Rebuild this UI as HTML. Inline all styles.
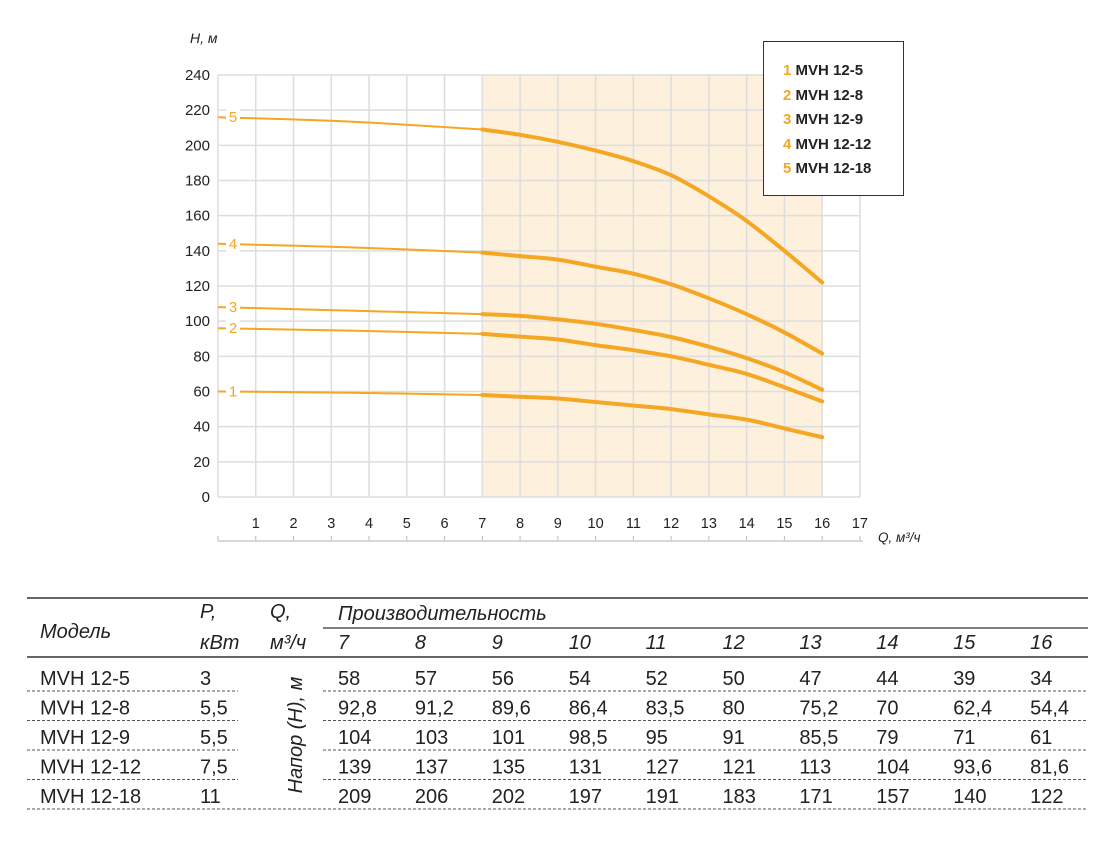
<!DOCTYPE html>
<html><head><meta charset="utf-8"><style>
body{margin:0;background:#fff;width:1111px;height:842px;overflow:hidden;font-family:"Liberation Sans","DejaVu Sans",sans-serif;}
svg{position:absolute;left:0;top:0}
</style></head><body>
<svg width="1111" height="842">
<g id="grid"></g><g id="curves"></g><g id="labels"></g>
<g>
<rect x="763.5" y="41.5" width="140" height="154" fill="#fff" stroke="#333" stroke-width="1"/>
<g font-size="15" font-weight="bold" fill="#222">
<text x="783" y="75"><tspan fill="#f5a623">1</tspan> MVH 12-5</text>
<text x="783" y="100"><tspan fill="#f5a623">2</tspan> MVH 12-8</text>
<text x="783" y="124"><tspan fill="#f5a623">3</tspan> MVH 12-9</text>
<text x="783" y="149"><tspan fill="#f5a623">4</tspan> MVH 12-12</text>
<text x="783" y="173"><tspan fill="#f5a623">5</tspan> MVH 12-18</text>
</g></g>
<g id="table"></g>
</svg>
<script>
const qCats=[7,8,9,10,11,12,13,14,15,16];
const models=["MVH 12-5","MVH 12-8","MVH 12-9","MVH 12-12","MVH 12-18"];
const powers=["3","5,5","5,5","7,5","11"];
const h1=[58,57,56,54,52,50,47,44,39,34];
const h2=[92.8,91.2,89.6,86.4,83.5,80,75.2,70,62.4,54.4];
const h3=[104,103,101,98.5,95,91,85.5,79,71,61];
const h4=[139,137,135,131,127,121,113,104,93.6,81.6];
const h5=[209,206,202,197,191,183,171,157,140,122];
const lowQ=[0,3.5,7];
const low1=[60,59.3,58];
const low2=[96,94.6,92.8];
const low3=[108,106,104];
const low4=[144,142,139];
const low5=[216,213.5,209];
const yTicks=[0,20,40,60,80,100,120,140,160,180,200,220,240];
const xTicks=[1,2,3,4,5,6,7,8,9,10,11,12,13,14,15,16,17];
const NS="http://www.w3.org/2000/svg";
const X=q=>218+q*37.76, Y=h=>497-h*1.7583;
function mk(p,t,a){const e=document.createElementNS(NS,t);for(const k in a)e.setAttribute(k,a[k]);p.appendChild(e);return e;}
function smooth(pts){let d='M'+pts[0][0]+','+pts[0][1];
 for(let i=0;i<pts.length-1;i++){const p0=pts[i-1]||pts[i],p1=pts[i],p2=pts[i+1],p3=pts[i+2]||p2;
  const c1=[p1[0]+(p2[0]-p0[0])/6,p1[1]+(p2[1]-p0[1])/6],c2=[p2[0]-(p3[0]-p1[0])/6,p2[1]-(p3[1]-p1[1])/6];
  d+='C'+c1+' '+c2+' '+p2;}return d;}
const g=document.getElementById('grid'),cv=document.getElementById('curves'),lb=document.getElementById('labels'),tb=document.getElementById('table');
let r=mk(g,'rect',{x:X(7),y:Y(240),width:X(16)-X(7),height:Y(0)-Y(240),fill:'#fdf1dd'});


yTicks.forEach(v=>{let l=mk(g,'line',{x1:X(0),x2:X(17),y1:Y(v),y2:Y(v),stroke:'#ddd','stroke-width':1.5});


let t=mk(lb,'text',{x:210,y:Y(v)+5,'text-anchor':'end','font-size':15,fill:'#222'});t.textContent=v;

});
[0].concat(xTicks).forEach(v=>{let l=mk(g,'line',{x1:X(v),x2:X(v),y1:Y(240),y2:Y(0),stroke:'#ddd','stroke-width':1.5});


mk(g,'line',{x1:X(v),x2:X(v),y1:536,y2:541,stroke:'#bbb','stroke-width':1});});
mk(g,'line',{x1:X(0),x2:X(17)+3,y1:541,y2:541,stroke:'#ccc','stroke-width':1.5});
xTicks.forEach(v=>{let t=mk(lb,'text',{x:X(v),y:528,'text-anchor':'middle','font-size':14.5,fill:'#222'});t.textContent=v;

});
let t=mk(lb,'text',{x:878,y:542,'font-size':13.5,'font-style':'italic',fill:'#222'});t.textContent='Q, м³/ч';


t=mk(lb,'text',{x:190,y:43,'font-size':14,'font-style':'italic',fill:'#222'});t.textContent='H, м';


const hs=[h1,h2,h3,h4,h5],lows=[low1,low2,low3,low4,low5];
hs.forEach((h,i)=>{
 let p=mk(cv,'path',{d:smooth(lowQ.map((q,j)=>[X(q),Y(lows[i][j])])),fill:'none',stroke:'#f5a623','stroke-width':2});
 
 
 p=mk(cv,'path',{d:smooth(qCats.map((q,j)=>[X(q),Y(h[j])])),fill:'none',stroke:'#f5a623','stroke-width':4,'stroke-linecap':'round'});
 
 
 mk(lb,'rect',{x:X(0)+8,y:Y(lows[i][0])-8,width:14,height:16,fill:'#fff'});
 let tt=mk(lb,'text',{x:X(0)+15,y:Y(lows[i][0])+5,'text-anchor':'middle','font-size':15,fill:'#f5a623'});tt.textContent=i+1;
 
 
});
const F='font-size:20px;fill:#222';
function tx(x,y,s,it,name){let e=mk(tb,'text',{x:x,y:y,style:F+(it?';font-style:italic':'')});e.textContent=s;

return e;}
mk(tb,'line',{x1:27,x2:1088,y1:598,y2:598,stroke:'#333','stroke-width':1.5});
mk(tb,'line',{x1:323,x2:1088,y1:628,y2:628,stroke:'#333','stroke-width':1.2});
mk(tb,'line',{x1:27,x2:1088,y1:657,y2:657,stroke:'#333','stroke-width':1.5});
tx(40,638,'Модель',1,'header-model');
tx(200,618,'P,',1,'header-power');tx(200,649,'кВт',1,'header-power-unit');
tx(270,618,'Q,',1,'header-q');tx(270,649,'м³/ч',1,'header-q-unit');
tx(338,620,'Производительность',1,'header-performance');
const colX=q=>338+(q-7)*76.9;
qCats.forEach(q=>tx(colX(q),649,q,1,'header-flow'));
let vt=mk(tb,'text',{x:0,y:0,transform:'translate(302,735) rotate(-90)','text-anchor':'middle',style:F+';font-style:italic'});vt.textContent='Напор (H), м';


const fmt=v=>String(v).replace('.',',');
models.forEach((m,i)=>{const y=685+i*29.5;
 tx(40,y,m,0,'cell-model');tx(200,y,powers[i],0,'cell-power');
 hs[i].forEach((v,j)=>tx(colX(qCats[j]),y,fmt(v),0,'cell-head'));
 const ly=y+6;
 mk(tb,'line',{x1:27,x2:238,y1:ly,y2:ly,stroke:'#555','stroke-dasharray':'3,2','stroke-width':1});
 mk(tb,'line',{x1:323,x2:1088,y1:ly,y2:ly,stroke:'#555','stroke-dasharray':'3,2','stroke-width':1});
});
mk(tb,'line',{x1:238,x2:323,y1:809,y2:809,stroke:'#555','stroke-dasharray':'3,2','stroke-width':1});
</script>
</body></html>
